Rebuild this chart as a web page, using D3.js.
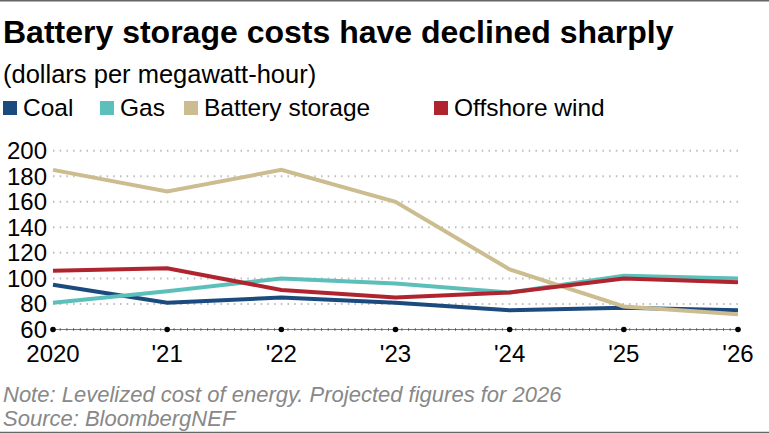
<!DOCTYPE html>
<html>
<head>
<meta charset="utf-8">
<script src="https://cdn.jsdelivr.net/npm/d3@7"></script>
<style>
  body { margin: 0; background: #fff; }
  text { font-family: "Liberation Sans", Arial, sans-serif; }
</style>
</head>
<body>
<div id="chart"></div>
<script>
const years = [2020, 2021, 2022, 2023, 2024, 2025, 2026];
const yearLabels = ["2020", "'21", "'22", "'23", "'24", "'25", "'26"];
const coal = [95, 81, 85, 81, 75, 77, 75];
const gas = [81, 90, 100, 96, 89, 102, 100];
const battery = [185, 168, 185, 160, 107, 78, 72];
const offshore = [106, 108, 91, 85, 89, 100, 97];
const yTicks = [60, 80, 100, 120, 140, 160, 180, 200];

const series = [
  { name: "Coal", values: coal, color: "#1b4a7e" },
  { name: "Gas", values: gas, color: "#5cbfba" },
  { name: "Battery storage", values: battery, color: "#cbbd8f" },
  { name: "Offshore wind", values: offshore, color: "#b0242f" }
];

const width = 769, height = 434;

const svg = d3.select("#chart")
  .append("svg")
  .attr("width", width)
  .attr("height", height);

// top and bottom rules
svg.append("line")
  .attr("x1", 0).attr("x2", width)
  .attr("y1", 0.75).attr("y2", 0.75)
  .attr("stroke", "#666").attr("stroke-width", 1.5);
svg.append("line")
  .attr("x1", 0).attr("x2", width)
  .attr("y1", 432.5).attr("y2", 432.5)
  .attr("stroke", "#666").attr("stroke-width", 1.5);

svg.append("text")
  .text("Battery storage costs have declined sharply")
  .attr("x", 3).attr("y", 43)
  .style("font-size", "32px")
  .style("font-weight", "bold");

svg.append("text")
  .text("(dollars per megawatt-hour)")
  .attr("x", 3).attr("y", 83)
  .style("font-size", "25.5px");

// legend
const legendX = [3, 100, 184, 434];
const legend = svg.selectAll("g.legend")
  .data(series)
  .join("g")
  .attr("class", "legend")
  .attr("transform", (d, i) => `translate(${legendX[i]}, 100)`);

legend.append("rect")
  .attr("x", 0).attr("y", 1)
  .attr("width", 14).attr("height", 14)
  .attr("fill", d => d.color);

legend.append("text")
  .text(d => d.name)
  .attr("x", 20).attr("y", 16)
  .style("font-size", "24.5px");

const x = d3.scalePoint()
  .domain(years)
  .range([53, 738]);

const y = d3.scaleLinear()
  .domain([60, 200])
  .range([329.5, 150.7]);

// dotted gridlines
svg.append("g")
  .selectAll("line")
  .data(yTicks.filter(t => t > 60))
  .join("line")
  .attr("x1", 53).attr("x2", 738)
  .attr("y1", d => y(d)).attr("y2", d => y(d))
  .attr("stroke", "#bdbdbd")
  .attr("stroke-width", 2)
  .attr("stroke-dasharray", "1.5,5.2");

// y labels
svg.append("g")
  .selectAll("text")
  .data(yTicks)
  .join("text")
  .text(d => d)
  .attr("x", 47)
  .attr("y", d => y(d) + 8.5)
  .attr("text-anchor", "end")
  .style("font-size", "24px");

// baseline axis
svg.append("line")
  .attr("x1", 53).attr("x2", 738)
  .attr("y1", y(60)).attr("y2", y(60))
  .attr("stroke", "#777").attr("stroke-width", 1);
svg.append("line")
  .attr("x1", 53).attr("x2", 738)
  .attr("y1", y(60)).attr("y2", y(60))
  .attr("stroke", "#555").attr("stroke-width", 2.5)
  .attr("stroke-dasharray", "1,5.7");

svg.append("g")
  .selectAll("circle")
  .data(years)
  .join("circle")
  .attr("cx", d => x(d))
  .attr("cy", y(60))
  .attr("r", 2.8)
  .attr("fill", "#000");

svg.append("g")
  .selectAll("text")
  .data(years)
  .join("text")
  .text((d, i) => yearLabels[i])
  .attr("x", d => x(d))
  .attr("y", 362)
  .attr("text-anchor", "middle")
  .style("font-size", "24px");

// lines
const line = d3.line()
  .x((d, i) => x(years[i]))
  .y(d => y(d));

svg.append("g")
  .selectAll("path")
  .data(series)
  .join("path")
  .attr("d", d => line(d.values))
  .attr("fill", "none")
  .attr("stroke", d => d.color)
  .attr("stroke-width", 4);

// footer
svg.append("text")
  .text("Note: Levelized cost of energy. Projected figures for 2026")
  .attr("x", 3).attr("y", 402)
  .style("font-size", "22px")
  .style("font-style", "italic")
  .attr("fill", "#888");

svg.append("text")
  .text("Source: BloombergNEF")
  .attr("x", 3).attr("y", 426)
  .style("font-size", "22px")
  .style("font-style", "italic")
  .attr("fill", "#888");
</script>
</body>
</html>
